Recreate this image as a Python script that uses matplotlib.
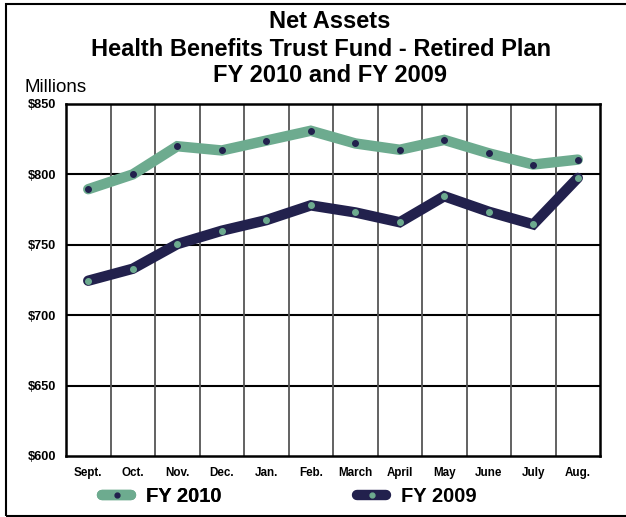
import matplotlib
matplotlib.use("Agg")
import matplotlib.pyplot as plt
from matplotlib.lines import Line2D
from matplotlib.patches import Rectangle

plt.rcParams['font.family'] = ['Liberation Sans', 'DejaVu Sans']

months = ["Sept.", "Oct.", "Nov.", "Dec.", "Jan.", "Feb.", "March", "April",
          "May", "June", "July", "Aug."]
fy2010 = [789.5, 800, 820, 817, 824, 831, 822, 817.5, 824.5, 815, 807, 810.5]
fy2009 = [724.5, 733, 750.5, 760, 767.5, 778, 773, 766, 784.5, 773.5, 764.5, 797.5]
yticks = [600, 650, 700, 750, 800, 850]
ytick_labels = ["$600", "$650", "$700", "$750", "$800", "$850"]

green = "#6dab8f"
navy = "#22214d"

fig = plt.figure(figsize=(6.26, 5.17), dpi=100)
W, H = 626, 517
ax = fig.add_axes([66 / W, 1 - 456 / H, (600 - 66) / W, (456 - 104) / H])

x = list(range(len(months)))
ax.plot(x, fy2010, color=green, lw=7.5, solid_capstyle='round', solid_joinstyle='miter', zorder=3)
ax.plot(x, fy2010, ls='none', marker='o', ms=4, color=navy, zorder=4)
ax.plot(x, fy2009, color=navy, lw=7.5, solid_capstyle='round', solid_joinstyle='miter', zorder=3)
ax.plot(x, fy2009, ls='none', marker='o', ms=4, color=green, zorder=4)

ax.set_xlim(-0.5, len(months) - 0.5)
ax.set_ylim(600, 850)
ax.set_yticks(yticks)
ax.set_yticklabels(ytick_labels, fontsize=9.2, fontweight='bold')
ax.set_xticks(x)
ax.set_xticklabels(months, fontsize=8.4, fontweight='bold')
ax.tick_params(axis='y', length=0, pad=7)
ax.tick_params(axis='x', length=0, pad=8)

for v in yticks[1:-1]:
    ax.axhline(v, color='black', lw=1.5, zorder=1)
for i in range(1, len(months)):
    ax.axvline(i - 0.5, color='#555555', lw=1.3, zorder=1)
for s in ax.spines.values():
    s.set_linewidth(1.8)
    s.set_color('black')

fig.text(330 / W, 1 - 22 / H, "Net Assets", ha='center', va='center', fontsize=17, fontweight='bold')
fig.text(321 / W, 1 - 49 / H, "Health Benefits Trust Fund - Retired Plan", ha='center', va='center', fontsize=17, fontweight='bold')
fig.text(330 / W, 1 - 75 / H, "FY 2010 and FY 2009", ha='center', va='center', fontsize=17, fontweight='bold')
fig.text(24 / W, 1 - 87 / H, "Millions", ha='left', va='center', fontsize=13.5)

# legend
h1 = Line2D([0], [0], color=green, lw=7.5, solid_capstyle='round', marker='o', ms=3.5,
            markerfacecolor=navy, markeredgecolor=navy)
h2 = Line2D([0], [0], color=navy, lw=7.5, solid_capstyle='round', marker='o', ms=3.5,
            markerfacecolor=green, markeredgecolor=green)
lp = {'weight': 'bold', 'size': 14.5}
leg1 = fig.legend([h1], ["FY 2010"], loc='center', bbox_to_anchor=(162 / W, 1 - 497 / H),
                  frameon=False, prop=lp, handlelength=1.45, handletextpad=0.75)
fig.add_artist(leg1)
fig.legend([h2], ["FY 2009"], loc='center', bbox_to_anchor=(417 / W, 1 - 497 / H),
           frameon=False, prop=lp, handlelength=1.45, handletextpad=0.75)

fig.patches.append(Rectangle((6 / W, 1 / H), 1 - 6 / W + 0.01, 1 - 5 / H, transform=fig.transFigure,
                             fill=False, edgecolor='black', lw=1.5))

fig.savefig("out.png", dpi=100)
